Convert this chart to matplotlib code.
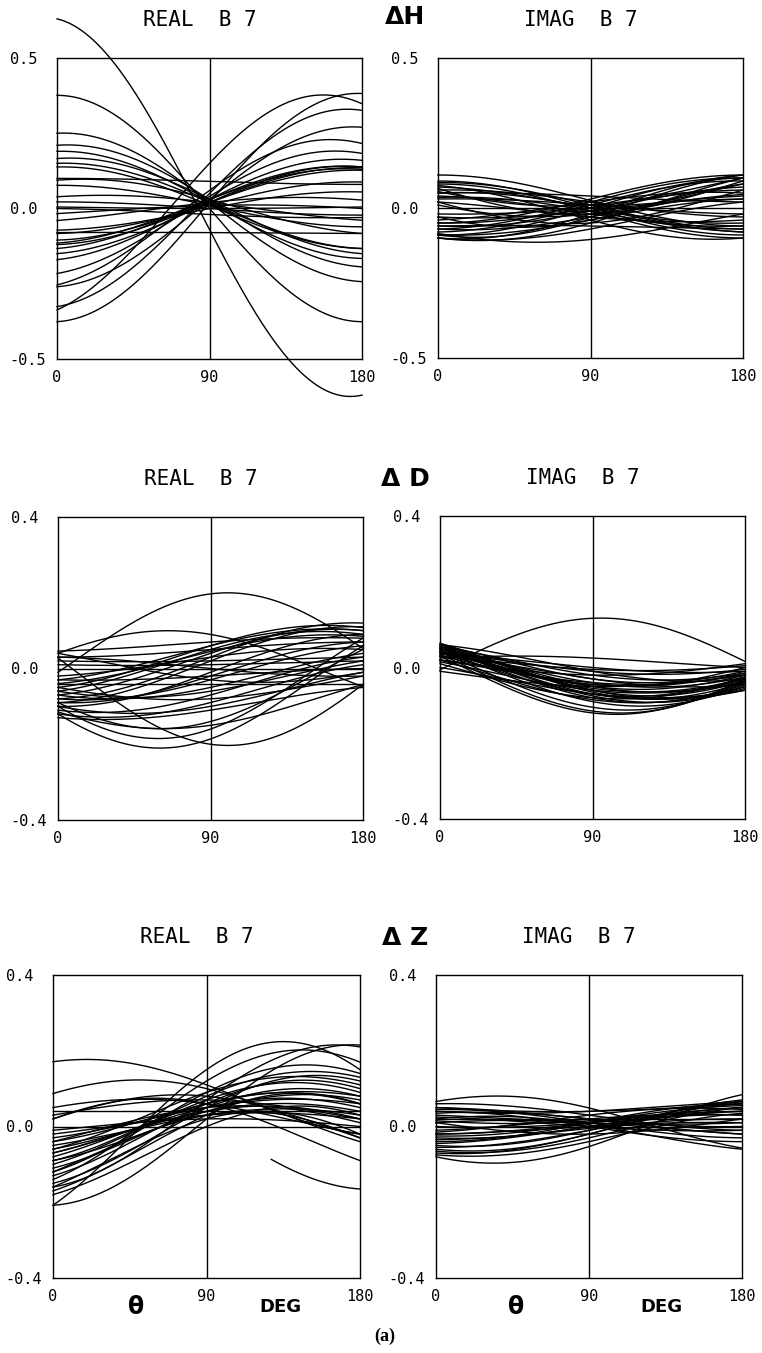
import numpy as np
import matplotlib
matplotlib.use("Agg")
import matplotlib.pyplot as plt

# each curve: value read at theta = 0, 90, 180 deg
dh_real = [
    (0.63, -0.07, -0.62), (0.376, 0.00, -0.376), (0.25, 0.02, -0.243),
    (0.21, 0.03, -0.194), (0.19, 0.02, -0.166), (0.166, 0.03, -0.15),
    (0.15, 0.02, -0.133), (0.138, 0.01, -0.133), (0.094, 0.03, -0.083),
    (0.077, 0.01, -0.061), (0.039, 0.02, -0.039), (0.022, 0.00, -0.022),
    (-0.376, 0.02, 0.382), (-0.337, 0.15, 0.348), (-0.326, 0.05, 0.326),
    (-0.26, 0.03, 0.27), (-0.254, 0.06, 0.216), (-0.216, 0.04, 0.183),
    (-0.17, 0.03, 0.16), (-0.15, 0.02, 0.138), (-0.133, 0.03, 0.138),
    (-0.12, 0.02, 0.135), (-0.115, 0.03, 0.13), (-0.105, 0.02, 0.127),
    (-0.083, 0.01, 0.088), (-0.072, 0.00, 0.055), (-0.04, 0.02, 0.028),
    (-0.017, 0.01, 0.00), (0.10, 0.09, 0.08), (-0.08, -0.08, -0.083),
    (0.005, 0.00, 0.005), (0.00, -0.02, -0.03),
]
dh_imag = [
    (0.11, 0.025, -0.06), (0.09, 0.00, -0.09), (0.085, 0.01, -0.07),
    (0.08, -0.01, -0.10), (0.07, 0.00, -0.05), (0.06, 0.02, -0.03),
    (0.05, 0.00, -0.08), (0.04, -0.02, -0.06), (0.03, 0.01, -0.02),
    (0.02, -0.03, -0.04), (0.00, 0.00, 0.00), (-0.10, -0.02, 0.11),
    (-0.09, 0.00, 0.10), (-0.09, -0.03, 0.11), (-0.08, 0.01, 0.09),
    (-0.10, -0.05, 0.08), (-0.07, 0.02, 0.10), (-0.06, -0.01, 0.07),
    (-0.05, 0.00, 0.06), (-0.04, 0.02, 0.05), (-0.03, -0.01, 0.04),
    (-0.02, 0.00, 0.03), (-0.085, -0.105, -0.02), (-0.05, 0.03, 0.11),
    (-0.06, -0.06, -0.07), (0.05, 0.04, 0.02), (0.075, -0.04, -0.10),
    (-0.10, -0.07, 0.02), (0.065, -0.02, 0.09), (-0.03, -0.04, 0.10),
    (0.02, -0.05, 0.06), (-0.09, -0.04, 0.03), (0.01, -0.02, 0.08),
    (0.055, 0.01, 0.10), (-0.07, -0.03, 0.045), (0.035, -0.01, -0.08),
]
dd_real = [
    (-0.01, 0.197, 0.053), (0.028, -0.20, -0.042), (-0.12, -0.186, 0.06),
    (-0.10, -0.16, 0.08), (-0.09, -0.14, 0.05), (0.04, 0.09, -0.048),
    (-0.115, -0.15, -0.042), (-0.13, -0.11, -0.05), (0.00, 0.00, 0.00),
    (-0.04, -0.04, -0.04), (-0.09, 0.02, 0.11), (-0.08, 0.03, 0.12),
    (-0.07, 0.04, 0.10), (-0.06, 0.05, 0.09), (-0.05, 0.06, 0.108),
    (-0.04, 0.045, 0.085), (-0.03, 0.06, 0.10), (-0.10, -0.01, 0.09),
    (-0.09, -0.02, 0.07), (-0.08, -0.03, 0.06), (-0.07, -0.05, 0.04),
    (-0.06, -0.06, 0.02), (-0.11, -0.07, 0.03), (-0.12, -0.09, 0.01),
    (-0.10, -0.10, -0.01), (0.046, 0.07, 0.08), (0.03, 0.05, 0.07),
    (0.02, 0.02, 0.03), (0.01, 0.01, 0.02), (-0.02, 0.03, 0.05),
    (-0.03, -0.02, 0.00), (-0.05, -0.08, -0.02), (0.04, -0.03, -0.01),
    (0.03, 0.00, -0.02),
]
dd_imag = [
    (-0.006, 0.13, 0.016), (0.03, -0.12, -0.03), (0.035, -0.115, -0.035),
    (0.04, -0.105, -0.04), (0.045, -0.09, -0.05), (0.05, -0.08, -0.045),
    (0.05, -0.075, -0.055), (0.055, -0.07, -0.04), (0.06, -0.065, -0.05),
    (0.064, -0.06, -0.035), (0.04, -0.055, -0.03), (0.045, -0.05, -0.02),
    (0.05, -0.04, -0.025), (0.06, -0.03, -0.01), (0.055, -0.02, -0.015),
    (0.04, -0.01, -0.005), (0.03, -0.005, 0.005), (0.035, 0.00, -0.01),
    (0.025, 0.025, 0.00), (0.02, -0.04, -0.02), (0.015, -0.06, -0.04),
    (0.01, -0.08, -0.03), (0.00, -0.07, -0.06), (-0.01, -0.05, -0.02),
    (0.02, -0.02, 0.01), (0.03, -0.03, -0.045), (0.045, -0.045, 0.00),
    (0.06, -0.01, -0.03), (0.02, -0.085, -0.05), (0.05, -0.06, -0.06),
    (0.04, -0.07, -0.025), (0.055, -0.05, -0.035), (0.03, -0.045, -0.015),
]
dz_real = [
    (0.171, 0.11, -0.02), (0.087, 0.10, -0.04), (-0.208, 0.15, 0.15),
    (-0.208, 0.02, 0.215), (-0.16, 0.07, 0.21), (-0.14, 0.12, 0.17),
    (-0.12, 0.09, 0.14), (-0.15, 0.05, 0.12), (-0.13, 0.06, 0.10),
    (-0.11, 0.05, 0.08), (-0.10, 0.07, 0.09), (-0.09, 0.04, 0.07),
    (-0.08, 0.06, 0.06), (-0.07, 0.05, 0.05), (-0.06, 0.04, 0.04),
    (-0.05, 0.03, 0.03), (-0.04, 0.06, 0.08), (-0.03, 0.05, 0.06),
    (-0.02, 0.03, 0.02), (-0.01, 0.02, 0.00), (0.00, 0.00, 0.00),
    (0.04, 0.04, 0.04), (0.03, 0.07, 0.02), (0.02, 0.08, -0.03),
    (0.05, 0.06, -0.02), (-0.17, 0.03, 0.06), (-0.18, 0.00, 0.03),
    (-0.16, 0.02, -0.02), (-0.12, 0.03, -0.03), (0.02, 0.06, -0.09),
    (-0.09, 0.08, 0.13), (-0.06, 0.09, 0.11), (-0.07, 0.04, 0.02),
    (-0.04, 0.05, 0.01),
]
dz_real_partial = (0.17, 0.02, -0.165)   # only drawn from 128 deg on
dz_real_partial_from = 128
dz_imag = [
    (-0.08, -0.053, 0.084), (0.066, 0.049, -0.057), (0.02, 0.005, -0.06),
    (0.06, 0.03, -0.01), (0.05, 0.02, 0.00), (0.045, 0.01, -0.03),
    (0.04, 0.00, -0.04), (0.035, 0.02, -0.02), (0.03, 0.01, 0.01),
    (0.025, 0.00, -0.01), (0.02, 0.02, 0.02), (0.01, 0.01, -0.02),
    (0.00, 0.00, 0.00), (-0.01, 0.02, 0.03), (-0.02, 0.01, 0.04),
    (-0.03, 0.00, 0.05), (-0.04, 0.01, 0.06), (-0.05, -0.01, 0.065),
    (-0.06, -0.02, 0.07), (-0.07, -0.02, 0.06), (-0.065, -0.03, 0.05),
    (-0.055, -0.01, 0.04), (-0.045, 0.00, 0.03), (-0.035, -0.005, 0.02),
    (-0.025, 0.01, 0.055), (-0.015, 0.03, 0.045), (-0.075, -0.04, 0.035),
    (0.05, 0.04, 0.06), (0.04, 0.04, 0.066), (0.01, -0.02, 0.02),
    (0.00, 0.01, 0.04), (-0.02, 0.00, 0.01), (0.015, 0.015, 0.05),
]

x_ticks = [0, 90, 180]
x_ticklabels = ["0", "90", "180"]
y_limits = [0.5, 0.4, 0.4]
y_ticklabels = [["-0.5", "0.0", "0.5"], ["-0.4", "0.0", "0.4"], ["-0.4", "0.0", "0.4"]]
row_labels = ["\u0394H", "\u0394 D", "\u0394 Z"]
col_titles = ["REAL  B 7", "IMAG  B 7"]

W, H = 762, 1353
boxes = [  # pixel boxes: left, top, right, bottom
    (57, 58, 362, 359), (438, 58, 743, 358),
    (58, 517, 363, 820), (440, 516, 745, 819),
    (53, 975, 360, 1278), (436, 975, 742, 1278),
]
panels = [dh_real, dh_imag, dd_real, dd_imag, dz_real, dz_imag]


def curve(vals, th):
    s, m, e = vals
    a = (s + e) / 2.0
    b = (s - e) / 2.0
    c = m - a
    r = np.radians(th)
    return a + b * np.cos(r) + c * np.sin(r)


fig = plt.figure(figsize=(W / 100, H / 100), dpi=100)
mono = "DejaVu Sans Mono"
theta = np.linspace(0, 180, 361)
LW = 1.0

for i, (data, box) in enumerate(zip(panels, boxes)):
    row, col = divmod(i, 2)
    l, t, r, b = box
    ax = fig.add_axes([l / W, 1 - b / H, (r - l) / W, (b - t) / H])
    lim = y_limits[row]
    for vals in data:
        ax.plot(theta, curve(vals, theta), color="black", lw=LW, clip_on=False)
    if i == 4:
        th2 = np.linspace(dz_real_partial_from, 180, 100)
        ax.plot(th2, curve(dz_real_partial, th2), color="black", lw=LW)
    ax.axvline(90, color="black", lw=1.0)
    ax.set_xlim(0, 180)
    ax.set_ylim(-lim, lim)
    ax.set_xticks(x_ticks)
    ax.set_xticklabels(x_ticklabels, fontfamily=mono, fontsize=11)
    ax.set_yticks([-lim, 0, lim])
    ax.set_yticklabels(y_ticklabels[row], fontfamily=mono, fontsize=11, ha="left")
    ax.tick_params(axis="x", length=0, pad=8)
    ax.tick_params(axis="y", length=0, pad=34)
    for sp in ax.spines.values():
        sp.set_linewidth(1.0)
    # column title
    fig.text((l + r) / 2 / W - 10 / W, 1 - (t - 38) / H, col_titles[col],
             fontfamily=mono, fontsize=15, ha="center", va="center")

for row, yc in enumerate([17, 479, 938]):
    fig.text(405 / W, 1 - yc / H, row_labels[row], fontsize=18,
             fontweight="bold", ha="center", va="center")

for xc_t, xc_d in [(136, 280), (516, 661)]:
    fig.text(xc_t / W, 1 - 1307 / H, "\u03b8", fontsize=17, fontweight="bold",
             ha="center", va="center")
    fig.text(xc_d / W, 1 - 1307 / H, "DEG", fontsize=13, fontweight="bold",
             ha="center", va="center")

fig.text(385 / W, 1 - 1336 / H, "(a)", fontfamily="Liberation Serif",
         fontsize=13, fontweight="bold", ha="center", va="center")

fig.savefig("out.png", dpi=100)
